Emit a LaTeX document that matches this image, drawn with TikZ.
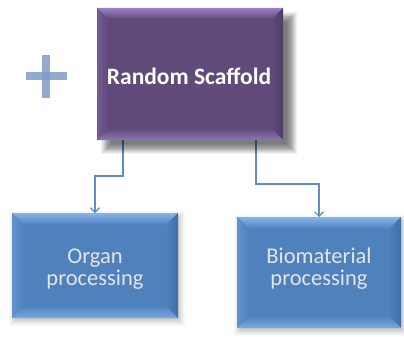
\documentclass[tikz,border=0pt]{standalone}
\usepackage{fontspec}
\setmainfont{Carlito}
\usetikzlibrary{arrows.meta,backgrounds,calc}
\definecolor{purpface}{HTML}{5F4A7A}
\definecolor{purplight}{HTML}{9C80C6}
\definecolor{purpdark}{HTML}{4E3D66}
\definecolor{blueface}{HTML}{4F81BD}
\definecolor{bluelight}{HTML}{86B3EA}
\definecolor{bluedark}{HTML}{406EA6}
\definecolor{plusblue}{HTML}{7F9CC6}
\definecolor{connblue}{HTML}{5F8BC6}
\definecolor{lighttext}{HTML}{E4E4E4}
% #1 node, #2 bevel, #3 face, #4 light, #5 dark
\newcommand\bevelbox[5]{%
  \shade[top color=#4, bottom color=#3] (#1.north west) -- (#1.north east) -- ($(#1.north east)+(-#2,#2)$) -- ($(#1.north west)+(#2,#2)$) -- cycle;
  \shade[left color=#4!35!#3, right color=#3] (#1.north west) -- ($(#1.north west)+(#2,#2)$) -- ($(#1.south west)+(#2,-#2)$) -- (#1.south west) -- cycle;
  \shade[left color=#3, right color=#5] (#1.north east) -- ($(#1.north east)+(-#2,#2)$) -- ($(#1.south east)+(-#2,-#2)$) -- (#1.south east) -- cycle;
  \shade[top color=#3, bottom color=#4!80!#3] (#1.south west) -- ($(#1.south west)+(#2,-#2)$) -- ($(#1.south east)+(-#2,-#2)$) -- (#1.south east) -- cycle;
}
\newcommand\softshadow[4]{%
  \foreach \i in {0,...,11}{%
    \fill[black,opacity=#4] ($(#1.north west)+(#2+\i*0.9-5,#3+\i*0.9-5)$) rectangle ($(#1.south east)+(#2-\i*0.9+5,#3-\i*0.9+5)$);
  }%
}
\tikzset{
  boxbase/.style={inner sep=0pt, outer sep=0pt, align=center},
  purplebox/.style={boxbase, fill=purpface, minimum width=186pt, minimum height=132pt},
  bluebox/.style={boxbase, fill=blueface},
  titletext/.style={text=white, font=\bfseries\fontsize{23.5}{26}\selectfont},
  boxtext/.style={text=lighttext, align=center, font=\fontsize{22.5}{22}\selectfont},
  conn/.style={draw=connblue, line width=1.1pt, -{Straight Barb[length=4.5pt,width=9pt,line width=1.1pt]}},
}
\begin{document}
\begin{tikzpicture}[x=1pt,y=-1pt]
\useasboundingbox (0,0) rectangle (404,337);
\node[purplebox] (rs) at (190,74) {};
\node[bluebox, minimum width=166pt, minimum height=105pt] (op) at (95,265.5) {};
\node[bluebox, minimum width=164pt, minimum height=111pt] (bm) at (319,272.5) {};
\bevelbox{rs}{11}{purpface}{purplight}{purpdark}
\bevelbox{op}{12}{blueface}{bluelight}{bluedark}
\bevelbox{bm}{12}{blueface}{bluelight}{bluedark}
\node[titletext] (rst) at (189,76) {Random Scaffold};
\node[boxtext] (opt) at (95,269) {Organ\\processing};
\node[boxtext] (bmt) at (319,269) {Biomaterial\\processing};
\begin{scope}[on background layer]
  \fill[white] (0,0) rectangle (404,337);
  \draw[conn] ([xshift=26pt]rs.south west) -- ++(0,36) -| (op.north);
  \draw[conn] ([xshift=159pt]rs.south west) -- ++(0,44) -| (bm.north);
  \softshadow{rs}{9}{9}{0.055}
  \softshadow{op}{2}{3}{0.025}
  \softshadow{bm}{2}{3}{0.025}
  \fill[plusblue, opacity=0.85] (26,72) rectangle (67,80);
  \fill[plusblue, opacity=0.85] (42,55) rectangle (50,98);
\end{scope}
\end{tikzpicture}
\end{document}
